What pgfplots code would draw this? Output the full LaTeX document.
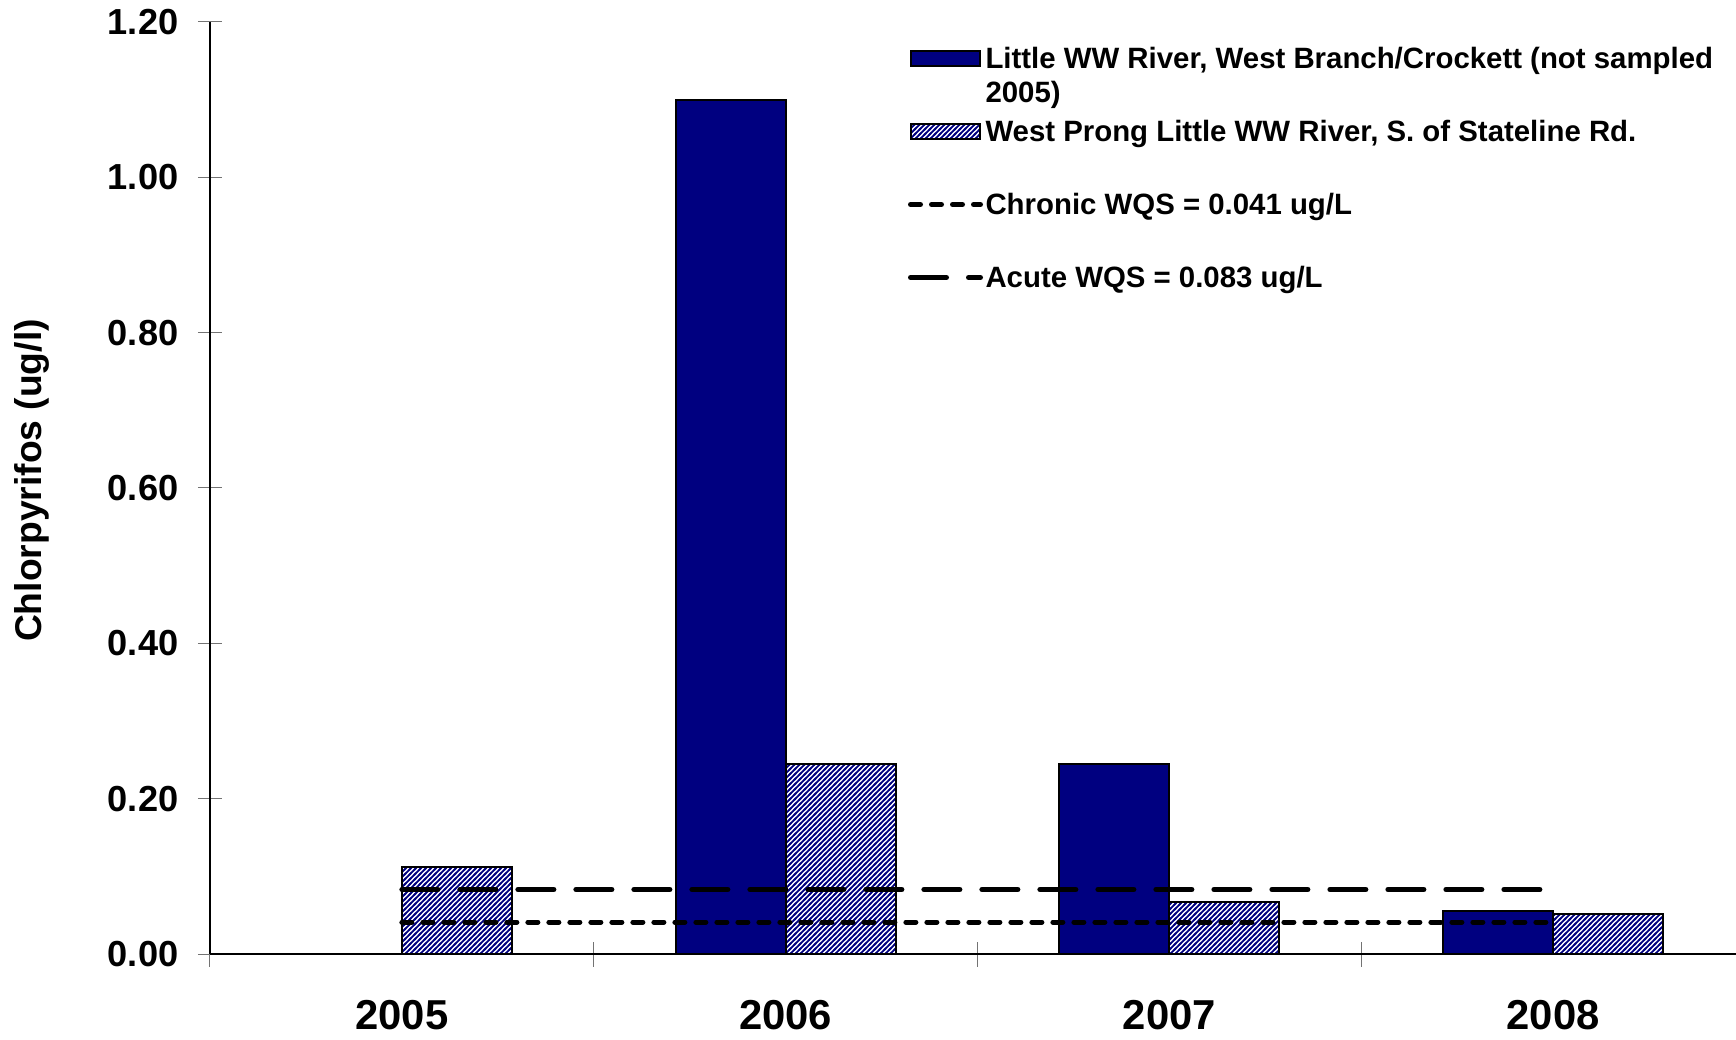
\documentclass[border=0pt]{standalone}
\usepackage{fontspec}
\setmainfont{Liberation Sans}
\usepackage{pgfplots}
\pgfplotsset{compat=1.18}
\usetikzlibrary{patterns}
\definecolor{navybar}{RGB}{0,0,128}
\pgfdeclarepatternformonly{navystripes}{\pgfqpoint{-0.6pt}{-0.6pt}}{\pgfqpoint{2.0226pt}{2.0226pt}}{\pgfqpoint{1.42264pt}{1.42264pt}}{%
  \pgfsetlinewidth{0.5pt}%
  \pgfpathmoveto{\pgfqpoint{-0.3pt}{-0.3pt}}%
  \pgfpathlineto{\pgfqpoint{1.72264pt}{1.72264pt}}%
  \pgfusepath{stroke}}
\pgfplotsset{
  barleg/.style={legend image code/.code={\draw[##1] (0mm,-0.6mm) rectangle (6.9mm,0.9mm);}},
  lineleg/.style={legend image code/.code={\draw[##1] (0mm,0.1mm) -- (7.0mm,0.1mm);}},
}

\begin{document}
\begin{tikzpicture}
\useasboundingbox (0,0) rectangle (173.6mm,103.9mm);
\begin{axis}[
  at={(21mm,8.5mm)}, anchor=south west,
  scale only axis, width=152.6mm, height=93.2mm,
  xmin=-0.5, xmax=3.4765, ymin=0, ymax=1.2,
  axis x line*=bottom, axis y line*=left,
  axis line style={line width=0.13mm, black},
  xtick={0,1,2,3}, xticklabels={2005,2006,2007,2008},
  minor xtick={-0.5,0.5,1.5,2.5},
  major x tick style={draw=none},
  ytick={0,0.2,0.4,0.6,0.8,1.0,1.2},
  tick align=center, major tick length=2.4mm, minor tick length=2.5mm,
  tick style={black!55, line width=0.1mm},
  /pgf/number format/assume math mode=true,
  y tick label style={/pgf/number format/fixed, /pgf/number format/fixed zerofill, /pgf/number format/precision=2},
  yticklabel style={font=\fontsize{10.3}{12}\selectfont\bfseries, inner sep=0pt, anchor=east, xshift=-1.9mm},
  xticklabel style={font=\fontsize{11.9}{14}\selectfont\bfseries, inner sep=0pt, anchor=north, yshift=-3.4mm},
  ylabel={Chlorpyrifos (ug/l)},
  ylabel style={at={(axis description cs:-0.1107,0.508)}, anchor=base, font=\fontsize{10.6}{12}\selectfont\bfseries, inner sep=0pt},
  legend style={at={(axis description cs:0.4574,0.9753)}, anchor=north west, draw=none, fill=none,
    inner sep=0pt, outer sep=0pt, row sep=4.4mm, column sep=0.25mm,
    font=\fontsize{8.36}{9.67}\selectfont\bfseries,
    nodes={inner sep=0pt, text height=2.3mm, text depth=0.6mm}},
  legend cell align=left,
]
\addplot[ybar, bar width=0.2867, bar shift=-0.14335, fill=navybar, draw=black, line width=0.2mm, barleg]
  coordinates {(1,1.10) (2,0.245) (3,0.055)};
\addlegendentry{\smash{\begin{tabular}[t]{@{}l@{}}Little WW River, West Branch/Crockett (not sampled\\2005)\end{tabular}}}
\addplot[ybar, bar width=0.2867, bar shift=0.14335, pattern=navystripes, pattern color=navybar, draw=black, line width=0.2mm, barleg]
  coordinates {(0,0.112) (1,0.245) (2,0.067) (3,0.051)};
\addlegendentry{West Prong Little WW River, S. of Stateline Rd.}
\addplot[black, line width=0.5mm, line cap=round, dash pattern=on 1.0mm off 1.1mm, lineleg]
  coordinates {(0,0.041) (3,0.041)};
\addlegendentry{Chronic WQS = 0.041 ug/L}
\addplot[black, line width=0.5mm, line cap=round, dash pattern=on 3.6mm off 2.2mm, lineleg]
  coordinates {(0,0.083) (3,0.083)};
\addlegendentry{Acute WQS = 0.083 ug/L}
\end{axis}
\end{tikzpicture}
\end{document}
